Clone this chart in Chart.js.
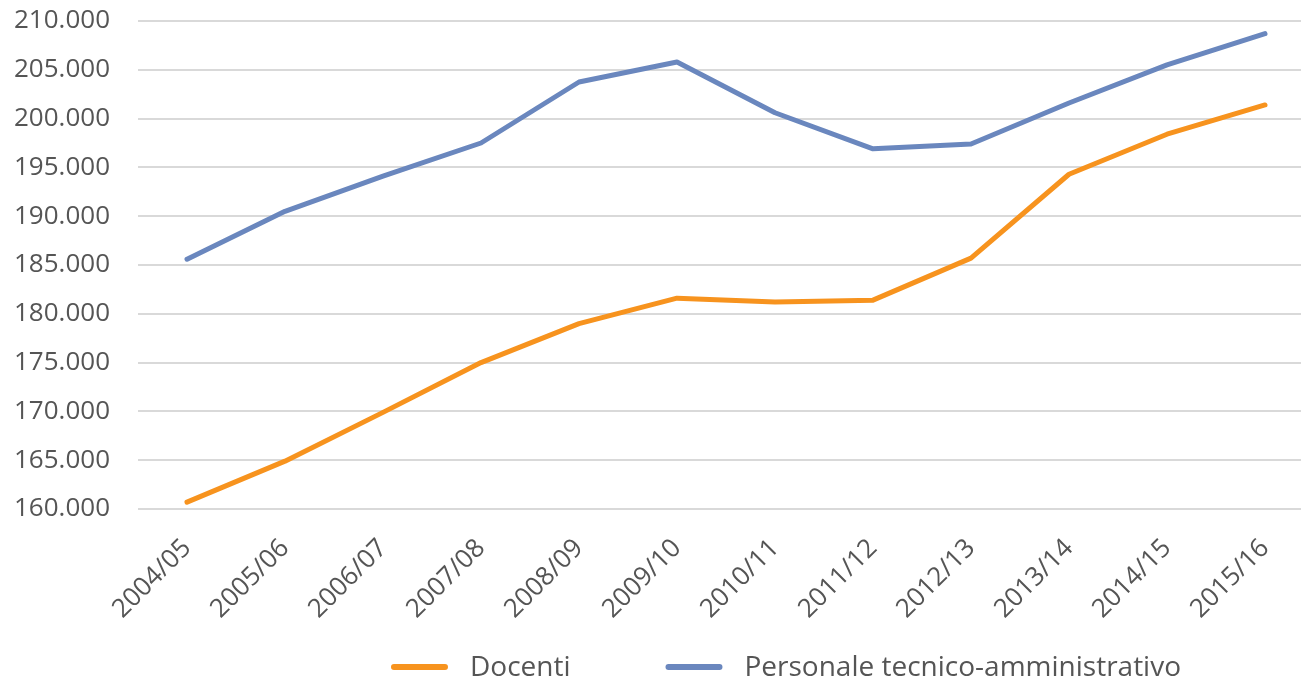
<!DOCTYPE html>
<html>
<head>
<meta charset="utf-8">
<script src="https://cdn.jsdelivr.net/npm/chart.js@4.4.1/dist/chart.umd.min.js"></script>
<style>
  html, body { margin: 0; padding: 0; background: #ffffff; overflow: hidden; }
  #wrap { position: relative; width: 1314px; height: 682px; }
</style>
</head>
<body>
<div id="wrap"><canvas id="c"></canvas></div>
<script>
const categories = ["2004/05","2005/06","2006/07","2007/08","2008/09","2009/10","2010/11","2011/12","2012/13","2013/14","2014/15","2015/16"];
const docenti = [160700, 164900, 169900, 175000, 179000, 181600, 181200, 181400, 185700, 194300, 198400, 201400];
const personale = [185600, 190500, 194100, 197500, 203750, 205800, 200600, 196900, 197400, 201600, 205500, 208700];
const seriesNames = ["Docenti", "Personale tecnico-amministrativo"];
const seriesColors = ["#F7931E", "#6A87BE"];
const yMin = 160000, yMax = 210000, yStep = 5000;

const FONT = "'Open Sans', 'Noto Sans', sans-serif";
const TEXT = "#555555";

const bottomLegend = {
  id: 'bottomLegend',
  afterDraw(chart) {
    const ctx = chart.ctx;
    const fontSize = 28;
    ctx.save();
    ctx.font = fontSize + "px " + FONT;
    const lineW = 57, gapText = 22, gapItem = 95;
    const items = chart.data.datasets.map(d => ({label: d.label, color: d.borderColor, w: ctx.measureText(d.label).width}));
    let total = 0;
    items.forEach((it, i) => { total += lineW + gapText + it.w + (i < items.length - 1 ? gapItem : 0); });
    const cx = 786, y = 667;
    let x = cx - total / 2;
    items.forEach(it => {
      ctx.strokeStyle = it.color;
      ctx.lineWidth = 6;
      ctx.lineCap = 'round';
      ctx.beginPath();
      ctx.moveTo(x + 3, y);
      ctx.lineTo(x + lineW - 3, y);
      ctx.stroke();
      x += lineW + gapText;
      ctx.fillStyle = TEXT;
      ctx.textBaseline = 'middle';
      ctx.textAlign = 'left';
      ctx.fillText(it.label, x, y + 1);
      x += it.w + gapItem;
    });
    ctx.restore();
  }
};

new Chart(document.getElementById('c'), {
  type: 'line',
  data: {
    labels: categories,
    datasets: [
      { label: seriesNames[0], data: docenti, borderColor: seriesColors[0], backgroundColor: seriesColors[0], borderWidth: 5, pointRadius: 0, tension: 0, borderCapStyle: 'round', borderJoinStyle: 'round' },
      { label: seriesNames[1], data: personale, borderColor: seriesColors[1], backgroundColor: seriesColors[1], borderWidth: 5, pointRadius: 0, tension: 0, borderCapStyle: 'round', borderJoinStyle: 'round' }
    ]
  },
  options: {
    responsive: true,
    maintainAspectRatio: false,
    animation: false,
    layout: { padding: { top: 21, left: 14, right: 0, bottom: 0 } },
    plugins: { legend: { display: false }, tooltip: { enabled: false } },
    scales: {
      x: {
        offset: true,
        grid: { display: false },
        border: { display: false },
        ticks: { color: TEXT, font: { family: FONT, size: 26 }, minRotation: 45, maxRotation: 45, padding: 16, autoSkip: false },
        afterFit(scale) { scale.height = 173; }
      },
      y: {
        min: yMin, max: yMax,
        grid: { color: "#D9D9D9", lineWidth: 2, drawTicks: false },
        border: { display: false },
        ticks: {
          stepSize: yStep, color: TEXT, padding: 0, crossAlign: 'far',
          font: { family: FONT, size: 26 },
          callback: v => v.toLocaleString('it-IT').replace(/\u00a0/g, '.')
        },
        afterFit(scale) { scale.width = 124; }
      }
    }
  },
  plugins: [bottomLegend]
});
</script>
</body>
</html>
